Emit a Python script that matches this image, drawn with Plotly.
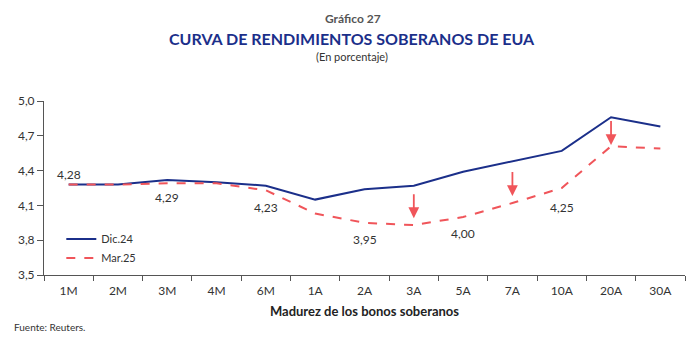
import plotly.graph_objects as go

categories = ["1M", "2M", "3M", "4M", "6M", "1A", "2A", "3A", "5A", "7A", "10A", "20A", "30A"]
dic24 = [4.28, 4.28, 4.32, 4.30, 4.27, 4.15, 4.24, 4.27, 4.39, 4.48, 4.57, 4.86, 4.78]
mar25 = [4.28, 4.28, 4.29, 4.29, 4.23, 4.03, 3.95, 3.93, 4.00, 4.12, 4.25, 4.61, 4.59]

label_cats = ["1M", "3M", "6M", "2A", "5A", "10A"]
label_texts = ["4,28", "4,29", "4,23", "3,95", "4,00", "4,25"]
label_y = [4.37, 4.17, 4.08, 3.81, 3.86, 4.08]

arrow_cats = ["3A", "7A", "20A"]
arrow_start = [4.21, 4.40, 4.84]
arrow_end = [3.99, 4.18, 4.62]

yticks = [3.5, 3.8, 4.1, 4.4, 4.7, 5.0]
yticktext = ["3,5", "3,8", "4,1", "4,4", "4,7", "5,0"]

FONT = "Lato"
NAVY = "#1b2f8a"
RED = "#f0555a"

W, H = 700, 345
ML, MR, MT, MB = 44, 15, 101, 70
plot_w = W - ML - MR
plot_h = H - MT - MB


def py(px):
    return (H - MB - px) / plot_h


def px_(x):
    return (x - ML) / plot_w


fig = go.Figure()
fig.add_trace(go.Scatter(x=categories, y=dic24, mode="lines", name="Dic.24",
                         line=dict(color=NAVY, width=2)))
fig.add_trace(go.Scatter(x=categories, y=mar25, mode="lines", name="Mar.25",
                         line=dict(color=RED, width=2, dash="dash")))

for c, t, y in zip(label_cats, label_texts, label_y):
    fig.add_annotation(x=c, y=y, text=t, showarrow=False, xref="x", yref="y",
                       font=dict(family=FONT, size=12, color="#333333"))

for c, y0, y1 in zip(arrow_cats, arrow_start, arrow_end):
    fig.add_annotation(x=c, y=y1, ax=c, ay=y0, xref="x", yref="y", axref="x", ayref="y",
                       text="", showarrow=True, arrowhead=2, arrowsize=1.2,
                       arrowwidth=1.8, arrowcolor=RED)

fig.add_annotation(text="<b>Gráfico 27</b>", x=px_(353), y=py(18), xref="paper", yref="paper",
                   xanchor="center", yanchor="middle", showarrow=False,
                   font=dict(family=FONT, size=12, color="#555555"))
fig.add_annotation(text="<b>CURVA DE RENDIMIENTOS SOBERANOS DE EUA</b>",
                   x=px_(352), y=py(38), xref="paper", yref="paper",
                   xanchor="center", yanchor="middle", showarrow=False,
                   font=dict(family=FONT, size=16, color=NAVY))
fig.add_annotation(text="(En porcentaje)", x=px_(352), y=py(56), xref="paper", yref="paper",
                   xanchor="center", yanchor="middle", showarrow=False,
                   font=dict(family=FONT, size=11, color="#333333"))
fig.add_annotation(text="Fuente: Reuters.", x=px_(12), y=py(327), xref="paper", yref="paper",
                   xanchor="left", yanchor="middle", showarrow=False,
                   font=dict(family=FONT, size=10, color="#333333"))

fig.update_layout(
    width=W, height=H,
    margin=dict(l=ML, r=MR, t=MT, b=MB),
    paper_bgcolor="white", plot_bgcolor="white",
    font=dict(family=FONT, size=12, color="#333333"),
    showlegend=True,
    legend=dict(x=0.027, y=0.29, xanchor="left", yanchor="top", bgcolor="rgba(0,0,0,0)",
                font=dict(family=FONT, size=11, color="#333333"), tracegroupgap=0,
                itemwidth=30),
    xaxis=dict(type="category", range=[-0.5, 12.5], showline=True, linecolor="#555555",
               linewidth=1, ticks="outside", tickson="boundaries", ticklen=5,
               tickcolor="#555555", showgrid=False, zeroline=False,
               ticklabelstandoff=5,
               tickfont=dict(family=FONT, size=12, color="#333333"),
               title=dict(text="<b>Madurez de los bonos soberanos</b>", standoff=9,
                          font=dict(family=FONT, size=13, color="#222222"))),
    yaxis=dict(range=[3.5, 5.0], tickvals=yticks, ticktext=yticktext, showline=True,
               linecolor="#555555", linewidth=1, ticks="outside", ticklen=6,
               tickcolor="#555555", showgrid=False, zeroline=False,
               tickfont=dict(family=FONT, size=12, color="#333333")),
)

fig.write_html("out.html")
